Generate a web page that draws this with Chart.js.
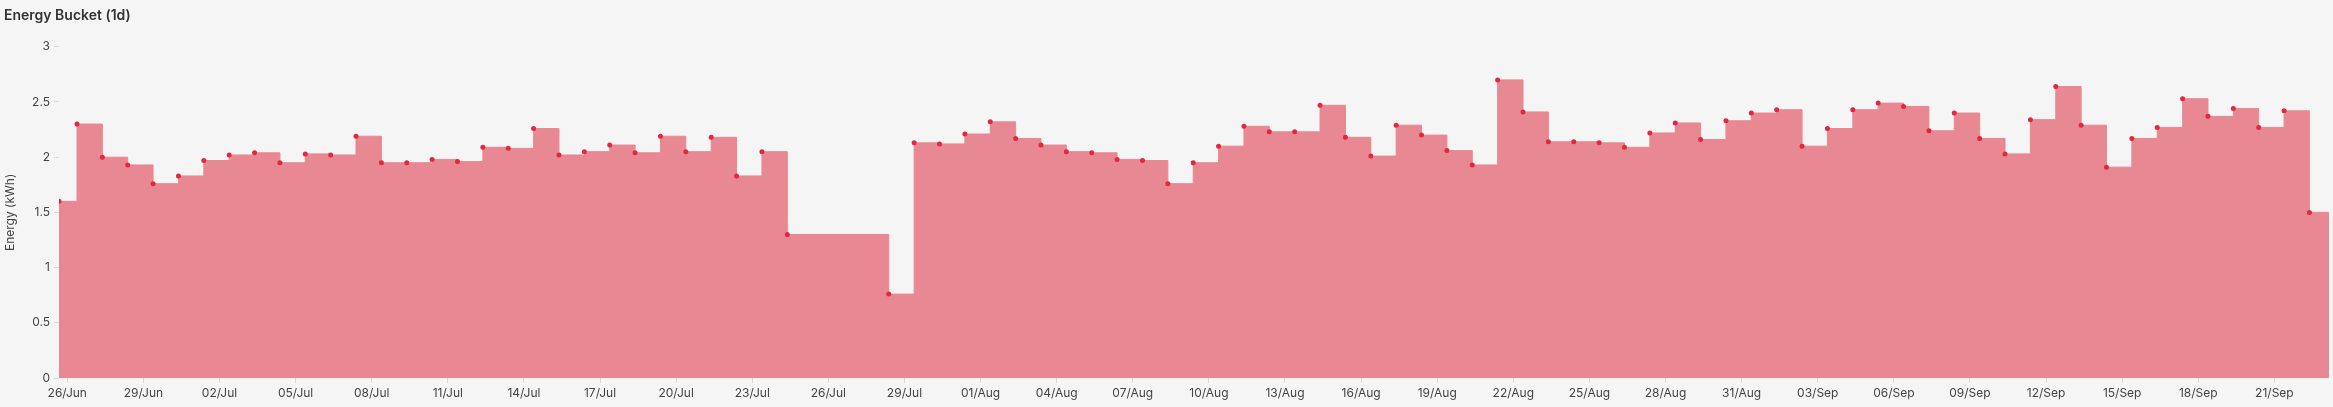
<!DOCTYPE html>
<html>
<head>
<meta charset="utf-8">
<script src="https://cdn.jsdelivr.net/npm/chart.js@4.4.1/dist/chart.umd.min.js"></script>
<style>
  html, body { margin: 0; padding: 0; background: #f4f5f4; }
  #wrap { width: 2333px; height: 407px; }
</style>
</head>
<body>
<div id="wrap"><canvas id="chart" width="2333" height="407"></canvas></div>
<script>
// bucket start times (MM-DD HH:MM, 2024), one per daily bucket; 25-27 Jul missing
const sampleTimes = [
  '06-25 16:10',
  '06-26 09:10', '06-27 09:10', '06-28 09:10', '06-29 09:10', '06-30 09:10',
  '07-01 09:10', '07-02 09:10', '07-03 09:10', '07-04 09:10', '07-05 09:10', '07-06 09:10', '07-07 09:10',
  '07-08 09:10', '07-09 09:10', '07-10 09:10', '07-11 09:10', '07-12 09:10', '07-13 09:10', '07-14 09:10',
  '07-15 09:10', '07-16 09:10', '07-17 09:10', '07-18 09:10', '07-19 09:10', '07-20 09:10', '07-21 09:10',
  '07-22 09:10', '07-23 09:10', '07-24 09:10',
  '07-28 09:10', '07-29 09:10', '07-30 09:10', '07-31 09:10',
  '08-01 09:10', '08-02 09:10', '08-03 09:10', '08-04 09:10', '08-05 09:10', '08-06 09:10', '08-07 09:10',
  '08-08 09:10', '08-09 09:10', '08-10 09:10', '08-11 09:10', '08-12 09:10', '08-13 09:10', '08-14 09:10',
  '08-15 09:10', '08-16 09:10', '08-17 09:10', '08-18 09:10', '08-19 09:10', '08-20 09:10', '08-21 09:10',
  '08-22 09:10', '08-23 09:10', '08-24 09:10', '08-25 09:10', '08-26 09:10', '08-27 09:10', '08-28 09:10',
  '08-29 09:10', '08-30 09:10', '08-31 09:10',
  '09-01 09:10', '09-02 09:10', '09-03 09:10', '09-04 09:10', '09-05 09:10', '09-06 09:10', '09-07 09:10',
  '09-08 09:10', '09-09 09:10', '09-10 09:10', '09-11 09:10', '09-12 09:10', '09-13 09:10', '09-14 09:10',
  '09-15 09:10', '09-16 09:10', '09-17 09:10', '09-18 09:10', '09-19 09:10', '09-20 09:10', '09-21 09:10',
  '09-22 09:10'
];

const energyKwh = [
  1.60,
  2.30, 2.00, 1.93, 1.76, 1.83,
  1.97, 2.02, 2.04, 1.95, 2.03, 2.02, 2.19,
  1.95, 1.95, 1.98, 1.96, 2.09, 2.08, 2.26,
  2.02, 2.05, 2.11, 2.04, 2.19, 2.05, 2.18,
  1.83, 2.05, 1.30,
  0.76, 2.13, 2.12, 2.21,
  2.32, 2.17, 2.11, 2.05, 2.04, 1.98, 1.97,
  1.76, 1.95, 2.10, 2.28, 2.23, 2.23, 2.47,
  2.18, 2.01, 2.29, 2.20, 2.06, 1.93, 2.70,
  2.41, 2.14, 2.14, 2.13, 2.09, 2.22, 2.31,
  2.16, 2.33, 2.40,
  2.43, 2.10, 2.26, 2.43, 2.49, 2.46, 2.24,
  2.40, 2.17, 2.03, 2.34, 2.64, 2.29, 1.91,
  2.17, 2.27, 2.53, 2.37, 2.44, 2.27, 2.42,
  1.50
];

const rangeEnd = '09-23 03:40';

const tickLabels = [
  '26/Jun', '29/Jun', '02/Jul', '05/Jul', '08/Jul', '11/Jul', '14/Jul', '17/Jul', '20/Jul', '23/Jul',
  '26/Jul', '29/Jul', '01/Aug', '04/Aug', '07/Aug', '10/Aug', '13/Aug', '16/Aug', '19/Aug', '22/Aug',
  '25/Aug', '28/Aug', '31/Aug', '03/Sep', '06/Sep', '09/Sep', '12/Sep', '15/Sep', '18/Sep', '21/Sep'
];

// days since 26/Jun 00:00
function toDays(s) {
  let t = new Date('2024-' + s.replace(' ', 'T') + ':00');
  return (t - new Date('2024-06-26T00:00:00')) / 86400000;
}

let points = sampleTimes.map((s, i) => ({ x: toDays(s), y: energyKwh[i] }));
// the last bucket is still open, hold its value up to the end of the range
points.push({ x: toDays(rangeEnd), y: energyKwh[energyKwh.length - 1] });
let lastIdx = points.length - 1;

Chart.defaults.font.family = 'Inter, "Noto Sans", sans-serif';
Chart.defaults.color = '#444';

new Chart(document.getElementById('chart'), {
  type: 'line',
  data: {
    datasets: [{
      label: 'Energy',
      data: points,
      stepped: true,
      fill: 'origin',
      backgroundColor: '#e88893',
      borderColor: '#e88893',
      borderWidth: 1,
      pointRadius: ctx => ctx.dataIndex === lastIdx ? 0 : 2.5,
      pointBackgroundColor: '#e2273f',
      pointBorderColor: '#e2273f',
      pointBorderWidth: 0
    }]
  },
  options: {
    responsive: false,
    animation: false,
    layout: { padding: { left: 4, right: 0, top: 0, bottom: 0 } },
    plugins: {
      legend: { display: false },
      tooltip: { enabled: false },
      title: {
        display: true,
        text: 'Energy Bucket (1d)',
        align: 'start',
        color: '#333',
        font: { size: 14, weight: '600' },
        padding: { top: 7, bottom: 23 }
      }
    },
    scales: {
      x: {
        type: 'linear',
        min: toDays(sampleTimes[0]),
        max: toDays(rangeEnd),
        afterBuildTicks: scale => {
          scale.ticks = tickLabels.map((l, i) => ({ value: i * 3 }));
        },
        afterFit: scale => { scale.height = 29; },
        grid: { drawOnChartArea: false, drawTicks: true, tickLength: 5, color: '#d8d8d8' },
        border: { display: false },
        ticks: {
          autoSkip: false,
          maxRotation: 0,
          padding: 3,
          font: { size: 12 },
          color: '#444',
          callback: (v, i) => tickLabels[i]
        }
      },
      y: {
        min: 0,
        max: 3,
        afterFit: scale => { scale.width = 55; },
        grid: { drawOnChartArea: false, drawTicks: true, tickLength: 5, color: '#d8d8d8' },
        border: { display: false },
        ticks: {
          stepSize: 0.5,
          padding: 4,
          font: { size: 12 },
          color: '#444',
          callback: v => String(Math.round(v * 10) / 10)
        },
        title: {
          display: true,
          text: 'Energy (kWh)',
          font: { size: 12, lineHeight: 1 },
          color: '#444',
          padding: { top: 0, bottom: 0 }
        }
      }
    }
  }
});
</script>
</body>
</html>
